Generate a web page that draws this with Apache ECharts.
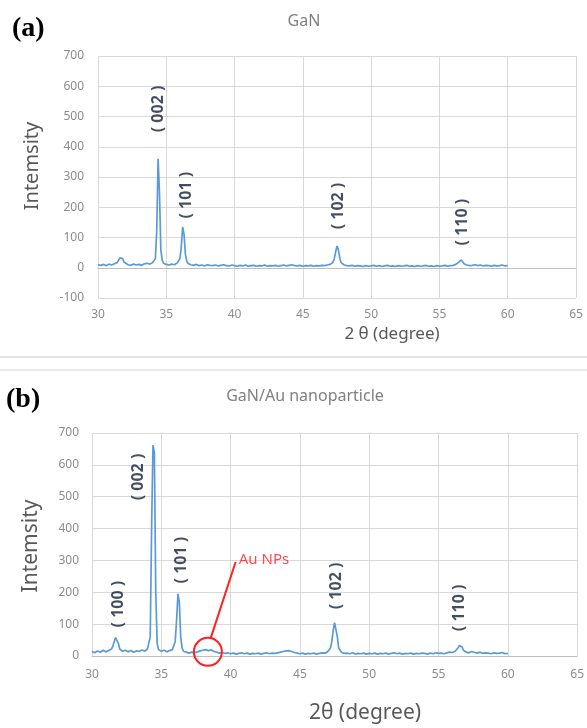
<!DOCTYPE html>
<html>
<head>
<meta charset="utf-8">
<script src="https://cdn.jsdelivr.net/npm/echarts@6/dist/echarts.min.js"></script>
<style>
html,body{margin:0;padding:0;background:#fff;}
#chart{width:587px;height:728px;}
</style>
</head>
<body>
<div id="chart"></div>
<script>
// ---- data ----
const xTicks = [30, 35, 40, 45, 50, 55, 60, 65];
const ganYTicks = [-100, 0, 100, 200, 300, 400, 500, 600, 700];
const auYTicks = [0, 100, 200, 300, 400, 500, 600, 700];

// (a) GaN : [2θ, intensity]
const ganScan = [
 [30.0,10],[30.2,8],[30.4,11],[30.6,7],[30.8,12],[31.0,9],[31.2,13],[31.4,17],[31.5,24],[31.6,33],[31.7,38],[31.8,30],[31.9,19],
 [32.0,13],[32.2,10],[32.4,8],[32.6,12],[32.8,9],[33.0,11],[33.2,8],[33.4,13],[33.6,15],[33.8,12],[34.0,17],[34.2,30],[34.3,120],
 [34.4,360],[34.5,250],[34.6,60],[34.7,25],[34.8,15],[35.0,11],[35.2,9],[35.4,12],[35.6,10],[35.8,16],[36.0,30],[36.1,70],[36.2,135],
 [36.3,110],[36.4,45],[36.5,22],[36.6,14],[36.8,10],[37.0,8],[37.2,11],[37.4,7],[37.6,9],[37.8,6],[38.0,10],[38.2,8],[38.4,7],
 [38.6,9],[38.8,6],[39.0,8],[39.2,10],[39.4,7],[39.6,6],[39.8,9],[40.0,7],[40.2,5],[40.4,8],[40.6,6],[40.8,9],[41.0,5],[41.2,7],
 [41.4,8],[41.6,5],[41.8,7],[42.0,6],[42.2,9],[42.4,5],[42.6,7],[42.8,6],[43.0,8],[43.2,5],[43.4,7],[43.6,9],[43.8,6],[44.0,8],
 [44.2,10],[44.4,7],[44.6,6],[44.8,8],[45.0,5],[45.2,7],[45.4,6],[45.6,8],[45.8,5],[46.0,7],[46.2,6],[46.4,8],[46.6,7],[46.8,9],
 [47.0,11],[47.2,18],[47.3,30],[47.4,52],[47.5,72],[47.6,60],[47.7,33],[47.8,17],[48.0,10],[48.2,7],[48.4,6],[48.6,8],[48.8,5],
 [49.0,7],[49.2,6],[49.4,4],[49.6,7],[49.8,5],[50.0,6],[50.2,8],[50.4,5],[50.6,7],[50.8,4],[51.0,6],[51.2,8],[51.4,5],[51.6,6],
 [51.8,4],[52.0,7],[52.2,5],[52.4,6],[52.6,8],[52.8,5],[53.0,6],[53.2,4],[53.4,7],[53.6,5],[53.8,6],[54.0,8],[54.2,5],[54.4,6],
 [54.6,4],[54.8,7],[55.0,5],[55.2,6],[55.4,8],[55.6,5],[55.8,7],[56.0,8],[56.2,11],[56.4,18],[56.5,24],[56.6,26],[56.7,20],[56.8,13],
 [57.0,9],[57.2,7],[57.4,8],[57.6,10],[57.8,7],[58.0,9],[58.2,6],[58.4,8],[58.6,7],[58.8,5],[59.0,8],[59.2,6],[59.4,7],[59.6,9],
 [59.8,6],[60.0,7]
];

// (b) GaN/Au nanoparticle : [2θ, intensity]
const auScan = [
 [30.0,14],[30.2,10],[30.4,16],[30.6,12],[30.8,18],[31.0,13],[31.2,17],[31.4,22],[31.5,30],[31.6,45],[31.7,58],[31.8,60],[31.9,40],
 [32.0,22],[32.2,15],[32.4,18],[32.6,13],[32.8,17],[33.0,12],[33.2,16],[33.4,14],[33.6,19],[33.8,15],[34.0,22],[34.2,60],[34.3,400],
 [34.4,662],[34.5,640],[34.6,200],[34.7,40],[34.8,20],[35.0,15],[35.2,18],[35.4,13],[35.6,17],[35.8,20],[36.0,45],[36.1,110],[36.2,195],
 [36.3,170],[36.4,60],[36.5,25],[36.6,15],[36.8,12],[37.0,9],[37.2,12],[37.4,10],[37.6,13],[37.8,16],[38.0,18],[38.2,20],[38.4,17],
 [38.6,19],[38.8,14],[39.0,12],[39.2,9],[39.4,11],[39.6,8],[39.8,10],[40.0,7],[40.2,9],[40.4,6],[40.6,8],[40.8,10],[41.0,7],[41.2,9],
 [41.4,6],[41.6,8],[41.8,7],[42.0,9],[42.2,6],[42.4,8],[42.6,10],[42.8,7],[43.0,9],[43.2,8],[43.4,10],[43.6,12],[43.8,14],[44.0,16],
 [44.2,17],[44.4,14],[44.6,11],[44.8,9],[45.0,7],[45.2,9],[45.4,6],[45.6,8],[45.8,7],[46.0,9],[46.2,6],[46.4,8],[46.6,10],[46.8,9],
 [47.0,13],[47.2,25],[47.3,45],[47.4,80],[47.5,105],[47.6,108],[47.7,60],[47.8,25],[48.0,12],[48.2,8],[48.4,9],[48.6,7],[48.8,10],
 [49.0,6],[49.2,8],[49.4,7],[49.6,9],[49.8,6],[50.0,8],[50.2,7],[50.4,9],[50.6,6],[50.8,8],[51.0,7],[51.2,9],[51.4,6],[51.6,8],
 [51.8,10],[52.0,7],[52.2,9],[52.4,6],[52.6,8],[52.8,7],[53.0,9],[53.2,6],[53.4,8],[53.6,7],[53.8,9],[54.0,8],[54.2,6],[54.4,9],
 [54.6,7],[54.8,10],[55.0,8],[55.2,9],[55.4,7],[55.6,10],[55.8,12],[56.0,11],[56.2,15],[56.4,25],[56.5,33],[56.6,35],[56.7,28],[56.8,18],
 [57.0,12],[57.2,10],[57.4,14],[57.6,11],[57.8,9],[58.0,12],[58.2,8],[58.4,10],[58.6,9],[58.8,7],[59.0,10],[59.2,8],[59.4,9],[59.6,11],
 [59.8,7],[60.0,8]
];

// peak (hkl) annotations, anchored in data coordinates
const ganPeakText = ['( 002 )', '( 101 )', '( 102 )', '( 110 )'];
const ganPeakAt = [[34.39, 525], [36.44, 240], [47.64, 204], [56.65, 151]];
const auPeakText = ['( 100 )', '( 002 )', '( 101 )', '( 102 )', '( 110 )'];
const auPeakAt = [[31.93, 163], [33.36, 562], [36.43, 301], [47.64, 220], [56.5, 151]];
// Au NPs callout (data coords)
const auNpText = 'Au NPs';
const auNpTextAt = [40.55, 301];
const auNpLine = [[40.36, 295], [38.57, 57]];
const auNpCircle = [38.36, 13];

// ---- chart ----
const chart = echarts.init(document.getElementById('chart'), null, {renderer: 'canvas'});
const FONT = 'Noto Sans';
const gridColor = '#d9d9d9';
const tickColor = '#8c8c8c';
const lineBlue = '#5b9bd5';

function xAxisCfg(gi, margin) {
  return {
    gridIndex: gi, type: 'value', min: xTicks[0], max: xTicks[xTicks.length - 1], interval: 5,
    axisLine: {show: true, onZero: true, lineStyle: {color: '#bfbfbf', width: 1}},
    axisTick: {show: false},
    splitLine: {show: true, lineStyle: {color: gridColor, width: 1}},
    axisLabel: {color: tickColor, fontSize: 12, fontFamily: FONT, margin: margin}
  };
}
function yAxisCfg(gi, ticks, margin) {
  return {
    gridIndex: gi, type: 'value', min: ticks[0], max: ticks[ticks.length - 1], interval: 100,
    axisLine: {show: false}, axisTick: {show: false},
    splitLine: {show: true, lineStyle: {color: gridColor, width: 1}},
    axisLabel: {color: tickColor, fontSize: 12, fontFamily: FONT, margin: margin}
  };
}
function peakLabels(gi, pos, texts) {
  return {
    type: 'scatter', xAxisIndex: gi, yAxisIndex: gi, silent: true,
    symbolSize: 1, itemStyle: {color: 'rgba(0,0,0,0)'},
    data: pos.map(p => [p[0], p[1]]),
    label: {
      show: true, position: 'inside', rotate: 90,
      formatter: p => texts[p.dataIndex],
      fontFamily: FONT, fontWeight: 'bold', fontSize: 16, color: '#17223a'
    },
    z: 5
  };
}

const option = {
  animation: false,
  backgroundColor: '#fff',
  grid: [
    {left: 98, top: 56, width: 478, height: 242},
    {left: 92, top: 433, width: 490, height: 223}
  ],
  xAxis: [xAxisCfg(0, 11), xAxisCfg(1, 13)],
  yAxis: [yAxisCfg(0, ganYTicks, 14), yAxisCfg(1, auYTicks, 13)],
  series: [
    {
      type: 'line', xAxisIndex: 0, yAxisIndex: 0, data: ganScan, showSymbol: false,
      lineStyle: {color: lineBlue, width: 1.7}, itemStyle: {color: lineBlue}
    },
    {
      type: 'line', xAxisIndex: 1, yAxisIndex: 1, data: auScan, showSymbol: false,
      lineStyle: {color: lineBlue, width: 1.7}, itemStyle: {color: lineBlue},
      markLine: {
        silent: true, symbol: ['none', 'none'],
        lineStyle: {color: '#ff2020', width: 2, type: 'solid'},
        label: {show: false},
        data: [[{coord: auNpLine[0]}, {coord: auNpLine[1]}]]
      },
      markPoint: {
        silent: true,
        data: [{coord: auNpCircle, symbol: 'circle', symbolSize: 28,
          itemStyle: {color: 'rgba(0,0,0,0)', borderColor: '#ff2020', borderWidth: 2},
          label: {show: false}}]
      }
    },
    peakLabels(0, ganPeakAt, ganPeakText),
    peakLabels(1, auPeakAt, auPeakText),
    {
      type: 'scatter', xAxisIndex: 1, yAxisIndex: 1, silent: true,
      symbolSize: 1, itemStyle: {color: 'rgba(0,0,0,0)'},
      data: [auNpTextAt],
      label: {show: true, position: 'right', distance: 0, formatter: auNpText,
        fontFamily: FONT, fontSize: 15, color: '#ff2020'}
    }
  ],
  graphic: [
    {type: 'text', left: 12, top: 15, style: {text: '(a)', font: 'bold 28px "Liberation Serif"', fill: '#000'}},
    {type: 'text', left: 6, top: 386, style: {text: '(b)', font: 'bold 28px "Liberation Serif"', fill: '#000'}},
    {type: 'text', x: 304, y: 21, style: {text: 'GaN', font: '16px "Noto Sans"', fill: '#808080', align: 'center', verticalAlign: 'middle'}},
    {type: 'text', x: 305, y: 396, style: {text: 'GaN/Au nanoparticle', font: '16px "Noto Sans"', fill: '#808080', align: 'center', verticalAlign: 'middle'}},
    {type: 'text', x: 32, y: 166, rotation: Math.PI / 2, style: {text: 'Intemsity', font: '20px "Noto Sans"', fill: '#595959', align: 'center', verticalAlign: 'middle'}},
    {type: 'text', x: 31, y: 546, rotation: Math.PI / 2, style: {text: 'Intemsity', font: '21px "Noto Sans"', fill: '#595959', align: 'center', verticalAlign: 'middle'}},
    {type: 'text', x: 392, y: 334, style: {text: '2 θ (degree)', font: '17px "Noto Sans"', fill: '#595959', align: 'center', verticalAlign: 'middle'}},
    {type: 'text', x: 365, y: 713, style: {text: '2θ (degree)', font: '21px "Noto Sans"', fill: '#595959', align: 'center', verticalAlign: 'middle'}},
    {type: 'line', shape: {x1: 0, y1: 357, x2: 587, y2: 357}, style: {stroke: '#d9d9d9', lineWidth: 1.5}},
    {type: 'line', shape: {x1: 0, y1: 370, x2: 587, y2: 370}, style: {stroke: '#e3e3e3', lineWidth: 1.5}}
  ]
};
chart.setOption(option);
</script>
</body>
</html>
